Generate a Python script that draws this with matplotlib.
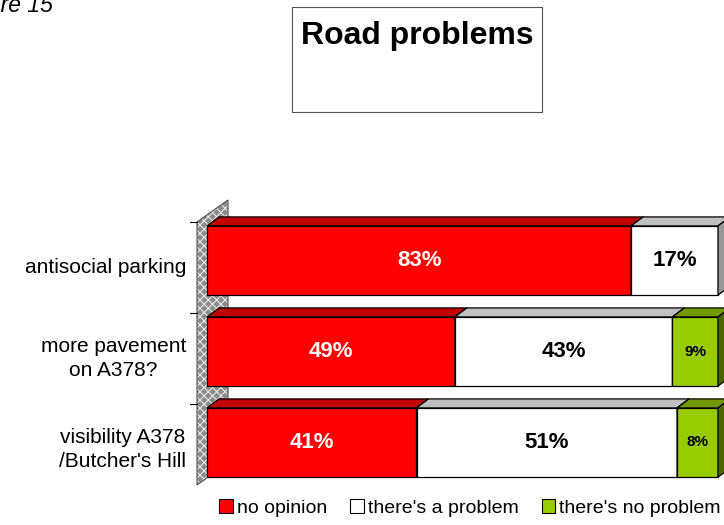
import matplotlib
matplotlib.use('Agg')
import matplotlib.pyplot as plt
from matplotlib.patches import Polygon, Rectangle, Patch
import numpy as np

categories = ["antisocial parking", "more pavement\non A378?", "visibility A378\n/Butcher's Hill"]
series_names = ["no opinion", "there's a problem", "there's no problem"]
no_opinion = [83, 49, 41]
problem = [17, 43, 51]
no_problem = [0, 9, 8]

front_colors = ['#FF0000', '#FFFFFF', '#99CC00']
top_colors = ['#C00000', '#C0C0C0', '#739900']
side_colors = ['#800000', '#969696', '#4D6600']

plt.rcParams['font.family'] = ['Liberation Sans', 'DejaVu Sans']
plt.rcParams['hatch.linewidth'] = 0.8

W, H = 724, 525
fig = plt.figure(figsize=(W / 100, H / 100), dpi=100)
ax = fig.add_axes([207 / W, 1 - 488 / H, 511 / W, 273 / H])
ax.set_xlim(0, 100)
ax.set_ylim(2.5, -0.5)
ax.axis('off')

px_x = 100 / 511.0
px_y = 3 / 273.0
bh = 0.76
ddx, ddy = 12 * px_x, -9 * px_y

# side wall
fx, fy = -10 * px_x, 7 * px_y
bx, by = 21 * px_x, -15 * px_y
wall_pts = [(fx, -0.5 + fy), (bx, -0.5 + by), (bx, 2.5 - 25 * px_y), (fx, 2.5 - 3 * px_y)]
ax.add_patch(Polygon(wall_pts, closed=True, facecolor='#8c8c8c', edgecolor='#e8e8e8',
                     hatch='xxxx', lw=0, clip_on=False, zorder=1))
ax.add_patch(Polygon(wall_pts, closed=True, fill=False, edgecolor='#505050',
                     lw=0.8, clip_on=False, zorder=1.1))

# category boundary ticks
for b in [-0.5, 0.5, 1.5]:
    ax.plot([fx - 7 * px_x, fx], [b + fy, b + fy], color='black', lw=0.8,
            clip_on=False, zorder=1.2)

# category labels
for i, cat in enumerate(categories):
    ax.text(fx - 11 * px_x, i + fy, cat, ha='right', va='center', multialignment='center',
            fontsize=15, linespacing=1.35)

values = np.array([no_opinion, problem, no_problem], dtype=float)
totals = values.sum(axis=0)
pct = values / totals * 100

for i in range(len(categories)):
    left = 0.0
    for j in range(len(series_names)):
        if values[j, i] == 0:
            continue
        w = pct[j, i]
        ax.barh(i, w, left=left, height=bh, color=front_colors[j], edgecolor='black',
                lw=0.9, zorder=3, clip_on=False)
        yt = i - bh / 2
        yb = i + bh / 2
        ax.add_patch(Polygon([(left, yt), (left + w, yt), (left + w + ddx, yt + ddy),
                              (left + ddx, yt + ddy)], closed=True, facecolor=top_colors[j],
                             edgecolor='black', lw=0.9, zorder=3, clip_on=False))
        ax.add_patch(Polygon([(left + w, yt), (left + w + ddx, yt + ddy),
                              (left + w + ddx, yb + ddy), (left + w, yb)], closed=True,
                             facecolor=side_colors[j], edgecolor='black', lw=0.9, zorder=3,
                             clip_on=False))
        small = values[j, i] < 12
        ax.text(left + w / 2, i, f"{int(values[j, i])}%", ha='center', va='center',
                fontsize=11 if small else 16, fontweight='bold',
                color='white' if j == 0 else 'black', zorder=5)
        left += w

# title box
fig.add_artist(Rectangle((292 / W, 1 - 112 / H), 250 / W, 105 / H, transform=fig.transFigure,
                         fill=False, edgecolor='#555555', lw=0.8))
fig.text(417 / W, 1 - 36 / H, 'Road problems', ha='center', va='center', fontsize=23,
         fontweight='bold')

fig.text(53 / W, 1 - 12 / H, 'Figure 15', ha='right', va='baseline', fontsize=16.5,
         style='italic')

handles = [Patch(facecolor=c, edgecolor='black', lw=0.8) for c in front_colors]
fig.legend(handles, series_names, loc='center', bbox_to_anchor=(470 / W, 1 - 508 / H), ncol=3,
           frameon=False, fontsize=14, handlelength=0.7, handleheight=0.7,
           handletextpad=0.2, columnspacing=1.2, borderpad=0)

fig.savefig('out.png', dpi=100)
